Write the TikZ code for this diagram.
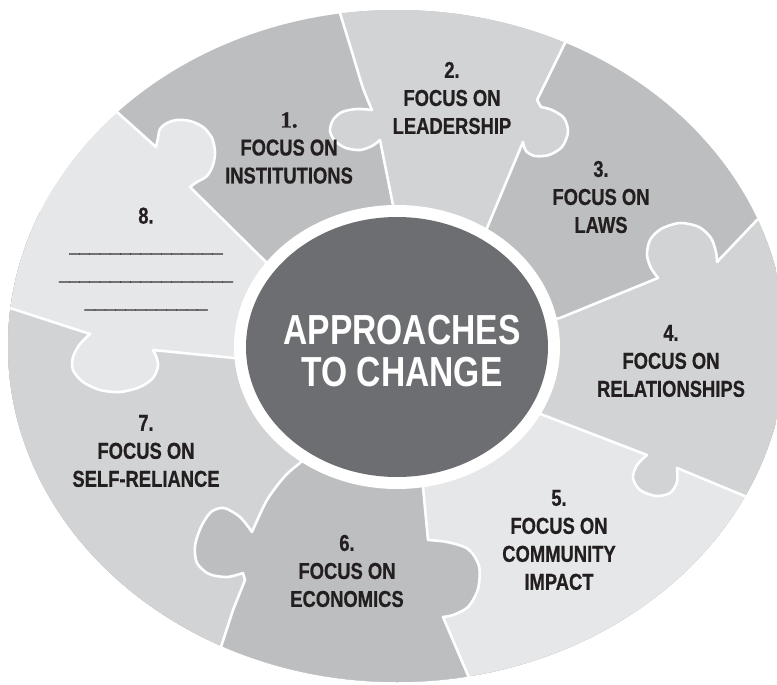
\documentclass[tikz,border=0pt]{standalone}
\usepackage{fontspec}
\usepackage{xcolor}
\usepackage{tikz}
\newfontfamily\labelfont[FakeStretch=0.8,FakeBold=0.6]{Liberation Sans}
\newfontfamily\titlefont[FakeStretch=0.8]{Liberation Sans}
\newfontfamily\numfont[FakeBold=0.6]{Liberation Serif}
\definecolor{G0}{HTML}{6D6E71}
\definecolor{G1}{HTML}{BCBEC0}
\definecolor{G2}{HTML}{D1D3D4}
\definecolor{G3}{HTML}{E6E7E8}
\definecolor{T0}{HTML}{231F20}

\begin{document}
\begin{tikzpicture}[x=1pt,y=-1pt,
  seam/.style={white, line width=2.6pt, line join=round, line cap=round},
  piece text/.style={text=T0, align=center, inner sep=0pt, font=\labelfont\bfseries\fontsize{23}{28}\selectfont},
  title text/.style={text=white, align=center, inner sep=0pt, font=\titlefont\bfseries\fontsize{42}{42}\selectfont}]
% seams between the pieces, from the hub outwards
\def\seamA{-- (267,263) -- (190,187) -- plot[smooth] coordinates {(190,187) (197,182) (207,176) (213,165) (215,152) (212,138) (203,127) (190,121) (177,120) (167,123) (160,129) (158,138) (156,147)} -- (117,112) -- (-723,-593)}
\def\seamB{-- (394,210) -- (380,140) -- plot[smooth] coordinates {(380,140) (372,146) (360,150) (346,148) (335,141) (330,131) (333,120) (342,112) (357,109) (372,110)} -- plot[smooth] coordinates {(372,110) (363,88) (352,52) (340,13)} -- (169,-989)}
\def\seamC{-- (487,228) -- (523,142) -- plot[smooth] coordinates {(523,142) (526,151) (535,156) (549,155) (562,147) (568,132) (564,118) (552,110) (541,107)} -- (537,100) -- (565,43) -- (1069,-869)}
\def\seamD{-- (560,318) -- (658,278) -- plot[smooth] coordinates {(658,278) (651,268) (647,255) (650,240) (661,229) (680,223) (699,227) (711,238) (716,252) (717,262)} -- (757,220) -- (1837,-161)}
\def\seamE{-- (543,415) -- (647,455) -- plot[smooth] coordinates {(647,455) (637,465) (633,478) (640,490) (656,496) (670,493) (677,482) (677,468)} -- (747,497) -- (1797,947)}
\def\seamF{-- (423,487) -- (428,540) -- plot[smooth] coordinates {(428,540) (447,542) (468,549) (479,566) (478,589) (468,607) (453,615) (443,617)} -- (470,680) -- (689,1679)}
\def\seamG{-- (300,463) -- plot[smooth] coordinates {(300,463) (285,476) (267,500) (252,532)} -- plot[smooth] coordinates {(252,532) (240,517) (224,508) (211,512) (201,527) (195,546) (197,563) (209,574) (227,577) (243,573)} -- (245,580) -- (233,610) -- (220,650) -- (-311,1559)}
\def\seamH{-- (234,358) -- (153,350) -- plot[smooth] coordinates {(153,350) (156,356) (158,366) (153,378) (140,387) (120,392) (100,390) (83,382) (73,370) (73,357) (80,344) (90,334)} -- (10,308) -- (-1151,191)}

\useasboundingbox (0,0) rectangle (777,685);
\fill[white] (0,0) rectangle (777,685);
\coordinate (C) at (397,347);
\coordinate (TL) at (-1500,-1500);
\coordinate (TR) at (2300,-1500);
\coordinate (BR) at (2300,2200);
\coordinate (BL) at (-1500,2200);
\coordinate (ref) at (-1288,-288);
\coordinate (ref2) at (-1138,-388);

\begin{scope}
\clip (397,346) ellipse [x radius=389pt, y radius=336pt];
\fill[G3] (0,0) rectangle (777,685);
\fill[G1] (C) \seamA -- (TL) -- (TR) -- (BR) -- (BL) -- (ref) -- cycle;
\fill[G2] (C) \seamB -- (TR) -- (BR) -- (BL) -- (ref) -- cycle;
\fill[G1] (C) \seamC -- (TR) -- (BR) -- (BL) -- (ref) -- cycle;
\fill[G2] (C) \seamD -- (BR) -- (BL) -- (ref) -- cycle;
\fill[G3] (C) \seamE -- (BR) -- (BL) -- (ref) -- cycle;
\fill[G1] (C) \seamF -- (BL) -- (ref) -- cycle;
\fill[G2] (C) \seamG -- (BL) -- (ref) -- cycle;
\fill[G3] (C) \seamH -- (ref) -- (ref2) -- cycle;
\end{scope}
\foreach \s in {\seamA,\seamB,\seamC,\seamD,\seamE,\seamF,\seamG,\seamH}
  \draw[seam] (C) \s;

\fill[white] (C) ellipse [x radius=163pt, y radius=142pt];
\fill[G0] (C) ellipse [x radius=151pt, y radius=130pt];
\node[title text] (title) at (402,351) {APPROACHES\\TO CHANGE};

\node[piece text] (inst) at (289,148) {{\numfont 1.}\\FOCUS ON\\INSTITUTIONS};
\node[piece text] (lead) at (452,98) {2.\\FOCUS ON\\LEADERSHIP};
\node[piece text] (laws) at (601,197) {3.\\FOCUS ON\\LAWS};
\node[piece text] (rela) at (671,361) {4.\\FOCUS ON\\RELATIONSHIPS};
\node[piece text] (comm) at (559,540) {5.\\FOCUS ON\\COMMUNITY\\IMPACT};
\node[piece text] (econ) at (347,571) {6.\\FOCUS ON\\ECONOMICS};
\node[piece text] (self) at (146,451) {7.\\FOCUS ON\\SELF-RELIANCE};
\node[piece text] (open) at (146,259) {8.\\\_\_\_\_\_\_\_\_\_\_\_\_\_\_\_\\\_\_\_\_\_\_\_\_\_\_\_\_\_\_\_\_\_\\\_\_\_\_\_\_\_\_\_\_\_\_};
\end{tikzpicture}
\end{document}
